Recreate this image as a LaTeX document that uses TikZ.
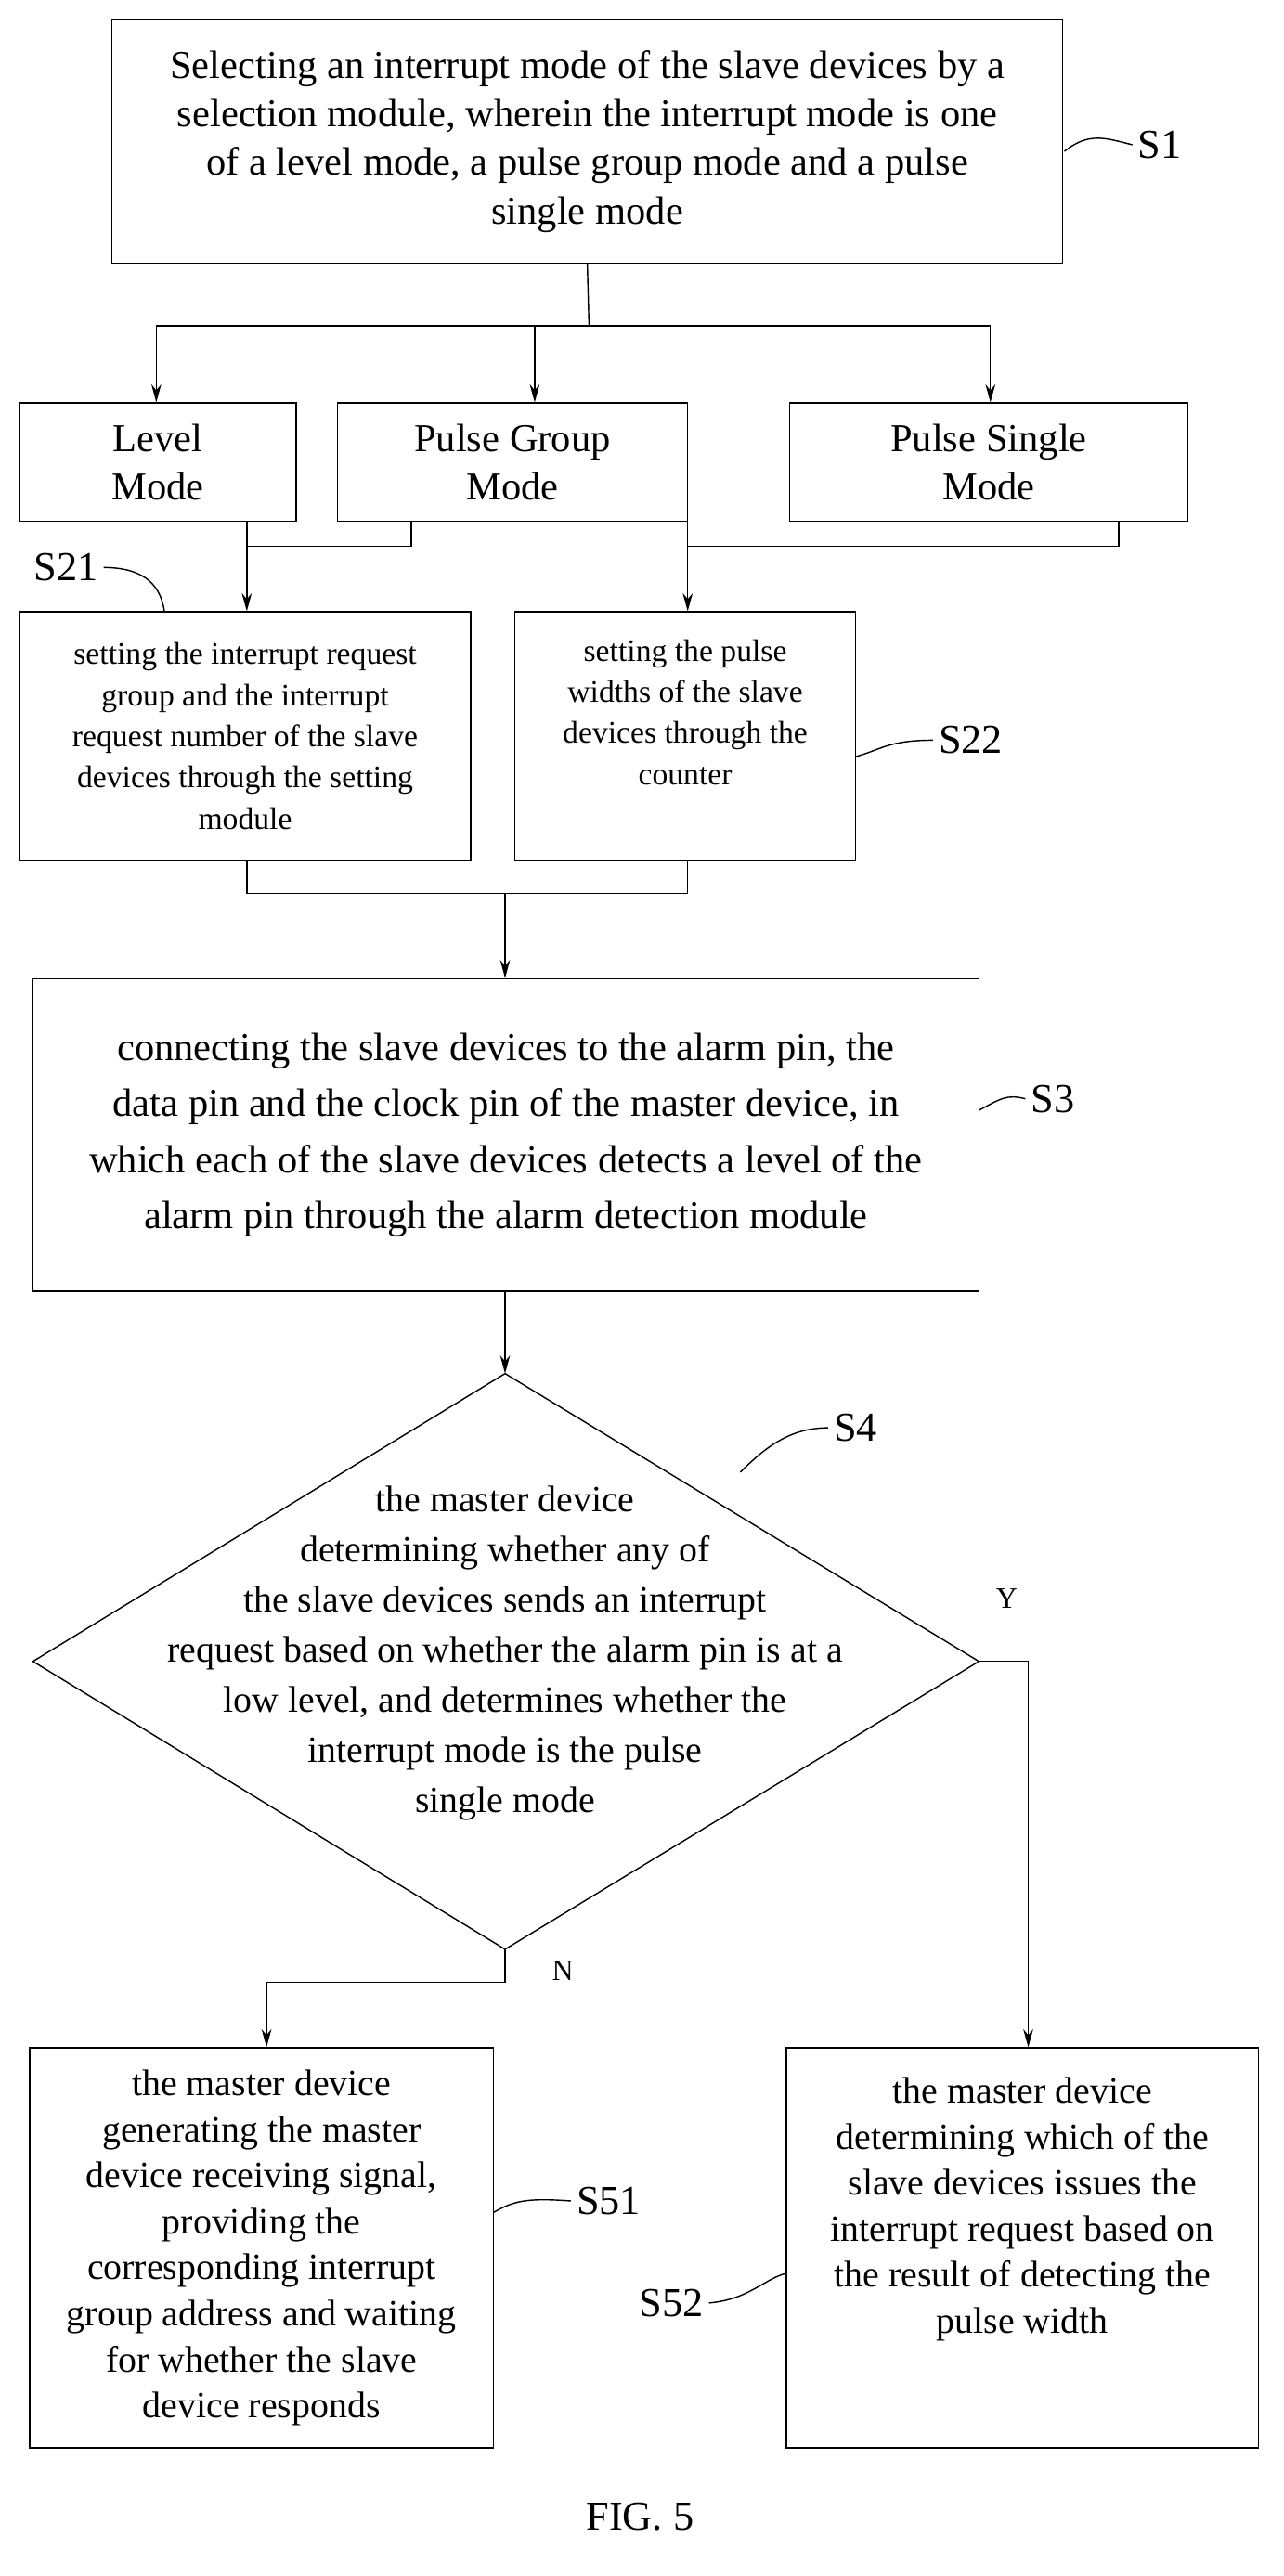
\documentclass[tikz,border=0pt]{standalone}
\usepackage{fontspec}
\setmainfont{Liberation Serif}
\usetikzlibrary{arrows.meta}
\begin{document}
\begin{tikzpicture}[x=1pt,y=-1pt,
 box/.style={draw,line width=0.8pt,align=center,inner sep=0pt},
 big/.style={font=\fontsize{24}{29.5}\selectfont},
 mid/.style={font=\fontsize{22.5}{30.5}\selectfont},
 sml/.style={font=\fontsize{19}{25}\selectfont},
 lab/.style={font=\fontsize{25}{28}\selectfont},
 arr/.style={-{Stealth[length=11pt,width=6pt]},line width=0.8pt},
 ln/.style={line width=0.8pt}]
\useasboundingbox (0,0) rectangle (780,1566);
\node[box,big,minimum width=578pt,minimum height=148pt] (s1) at (357,86) {Selecting an interrupt mode of the slave devices by a\\selection module, wherein the interrupt mode is one\\of a level mode, a pulse group mode and a pulse\\single mode};
\node[box,big,minimum width=168pt,minimum height=72pt] (lv) at (96,281) {Level\\Mode};
\node[box,big,minimum width=213pt,minimum height=72pt] (pg) at (311.5,281) {Pulse Group\\Mode};
\node[box,big,minimum width=242pt,minimum height=72pt] (ps) at (601,281) {Pulse Single\\Mode};
\node[box,sml,minimum width=274pt,minimum height=151pt] (s21) at (149,447.5) {setting the interrupt request\\group and the interrupt\\request number of the slave\\devices through the setting\\module};
\node[box,minimum width=207pt,minimum height=151pt] (s22) at (416.5,447.5) {};
\node[sml,align=center] (s22t) at (416.5,433) {setting the pulse\\widths of the slave\\devices through the\\counter};
\node[box,big,font=\fontsize{24}{34}\selectfont,minimum width=575pt,minimum height=190pt] (s3) at (307.5,690) {connecting the slave devices to the alarm pin, the\\data pin and the clock pin of the master device, in\\which each of the slave devices detects a level of the\\alarm pin through the alarm detection module};
\coordinate (dt) at (307,835); \coordinate (dl) at (20,1010);
\coordinate (dr) at (595,1010); \coordinate (db) at (307,1185);
\draw[ln] (dt)--(dr)--(db)--(dl)--cycle;
\node[mid,align=center] (s4t) at (307,1005) {the master device\\determining whether any of\\the slave devices sends an interrupt\\request based on whether the alarm pin is at a\\low level, and determines whether the\\interrupt mode is the pulse\\single mode};
\node[box,font=\fontsize{22.5}{28}\selectfont,minimum width=282pt,minimum height=243pt] (s51) at (159,1366.5) {the master device\\generating the master\\device receiving signal,\\providing the\\corresponding interrupt\\group address and waiting\\for whether the slave\\device responds};
\node[box,minimum width=287pt,minimum height=243pt] (s52) at (621.5,1366.5) {};
\node[font=\fontsize{22.5}{28}\selectfont,align=center] (s52t) at (621.5,1343) {the master device\\determining which of the\\slave devices issues the\\interrupt request based on\\the result of detecting the\\pulse width};
% labels
\node[lab] (l1) at (705,88) {S1};
\node[lab] (l21) at (40,345) {S21};
\node[lab] (l22) at (590,450) {S22};
\node[lab] (l3) at (640,668) {S3};
\node[lab] (l4) at (520,868) {S4};
\node[lab] (l51) at (370,1338) {S51};
\node[lab] (l52) at (408,1400) {S52};
\node[font=\fontsize{18}{20}\selectfont] (y) at (612,972) {Y};
\node[font=\fontsize{18}{20}\selectfont] (n) at (342,1198) {N};
\node[font=\fontsize{25}{28}\selectfont] (fig) at (389,1530) {FIG. 5};
\draw[ln] (647,92) .. controls (662,80) and (672,84) .. (l1.west);
\draw[ln] (l21.east) .. controls (90,345) and (98,358) .. (100,372);
\draw[ln] (520,460) .. controls (535,456) and (540,450) .. (l22.west);
\draw[ln] (595,675) .. controls (608,668) and (612,665) .. (l3.west);
\draw[ln] (450,895) .. controls (465,880) and (480,868) .. (l4.west);
\draw[ln] (300,1345) .. controls (312,1338) and (320,1336) .. (l51.west);
\draw[ln] (l52.east) .. controls (455,1398) and (465,1385) .. (478,1382);
% connectors
\draw[ln] (s1.south) -- (358,198);
\draw[ln] (95,198) -- (602,198);
\draw[arr] (95,198) -- (lv.north -| 95,0);
\draw[arr] (325,198) -- (pg.north -| 325,0);
\draw[arr] (602,198) -- (ps.north -| 602,0);
\draw[ln] (150,317) -- (150,332) -- (250,332) -- (250,317);
\draw[arr] (150,332) -- (s21.north -| 150,0);
\draw[ln] (418,317) -- (418,332) -- (680,332) -- (680,317);
\draw[arr] (418,332) -- (s22.north -| 418,0);
\draw[ln] (150,523) -- (150,543) -- (418,543) -- (418,523);
\draw[arr] (307,543) -- (s3.north -| 307,0);
\draw[arr] (s3.south -| 307,0) -- (dt);
\draw[ln] (dr) -- (625,1010);
\draw[arr] (625,1010) -- (s52.north -| 625,0);
\draw[ln] (db) -- (307,1205) -- (162,1205);
\draw[arr] (162,1205) -- (s51.north -| 162,0);
\end{tikzpicture}
\end{document}
